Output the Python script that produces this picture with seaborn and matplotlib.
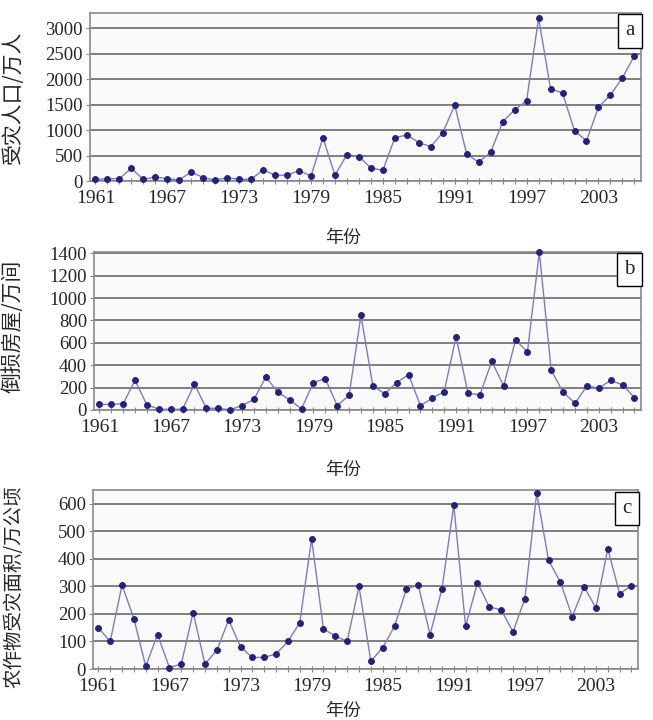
import matplotlib
matplotlib.use("Agg")
import matplotlib.pyplot as plt
import seaborn as sns
import pandas as pd

years = list(range(1961, 2007))

affected_people = [30, 45, 45, 250, 30, 80, 45, 20, 180, 65,
                   20, 65, 33, 33, 220, 115, 113, 205, 95, 850,
                   113, 520, 480, 255, 210, 850, 905, 755, 675, 950,
                   1490, 525, 370, 565, 1160, 1400, 1575, 3200, 1810, 1730,
                   985, 790, 1450, 1690, 2030, 2460]

damaged_houses = [50, 50, 55, 265, 45, 8, 5, 8, 230, 15,
                  15, 2, 40, 95, 295, 160, 90, 10, 245, 280,
                  40, 130, 845, 215, 145, 245, 315, 40, 105, 165,
                  655, 150, 135, 435, 215, 625, 520, 1410, 355, 160,
                  60, 215, 195, 265, 225, 110]

crop_area = [150, 100, 305, 183, 10, 125, 5, 18, 205, 18,
             68, 178, 80, 42, 42, 55, 100, 168, 472, 145,
             120, 100, 300, 28, 78, 155, 290, 305, 125, 290,
             595, 155, 313, 225, 215, 135, 255, 640, 395, 315,
             190, 298, 222, 437, 273, 303]

ylabels = ["受灾人口/万人", "倒损房屋/万间", "农作物受灾面积/万公顷"]
panel_tags = ["a", "b", "c"]
xtick_years = list(range(1961, 2007, 6))
xlabel_text = "年份"

sns.set_theme(style="white")
plt.rcParams['font.family'] = ['Noto Sans CJK SC', 'DejaVu Sans']

fig = plt.figure(figsize=(6.53, 7.2), dpi=100)

# axes rectangles in pixels: left, right, top, bottom
rects_px = [(90, 641, 13, 181), (94, 641, 252, 410), (93, 638, 490, 669)]
ylims = [(0, 3300), (0, 1412), (0, 650)]
ysteps = [500, 200, 100]
ylabel_y = [0.5, 0.53, 0.46]
ylabel_size = [15, 15, 14]
xlabel_pos_y = [229, 461, 702]

series = [affected_people, damaged_houses, crop_area]
W, H = 653, 720

serif = ['Liberation Serif', 'DejaVu Serif']

for i in range(3):
    l, r, t, b = rects_px[i]
    ax = fig.add_axes([l / W, 1 - b / H, (r - l) / W, (b - t) / H])
    ax.set_facecolor('#fafafa')
    df = pd.DataFrame({"year": years, "value": series[i]})
    sns.lineplot(data=df, x="year", y="value", ax=ax, color='#7c7cc6',
                 linewidth=1.0, marker='o', markersize=4.2,
                 markerfacecolor='#23237a', markeredgecolor='#23237a', zorder=3,
                 clip_on=False)
    ax.set_xlim(1960.55, 2006.55)
    ax.set_ylim(*ylims[i])
    ax.set_yticks(list(range(0, ylims[i][1] + 1, ysteps[i])))
    ax.yaxis.grid(True, color='#757575', linewidth=1.3)
    ax.set_axisbelow(True)
    ax.set_xticks(xtick_years)
    ax.set_xticks(years, minor=True)
    ax.set_xticklabels([str(y) for y in xtick_years], fontfamily=serif, fontsize=14)
    for lab in ax.get_yticklabels():
        lab.set_fontfamily(serif)
        lab.set_fontsize(13.5)
    ax.tick_params(axis='x', which='both', direction='inout', length=5, width=0.8,
                   color='#888888', pad=4, bottom=True)
    ax.tick_params(axis='y', direction='out', length=3, width=0.8,
                   color='#888888', pad=2, left=True)
    for sp in ax.spines.values():
        sp.set_color('#8a8a8a')
        sp.set_linewidth(1.2)
    ax.set_ylabel(ylabels[i], fontsize=ylabel_size[i])
    ax.yaxis.set_label_coords((24 - l) / (r - l), ylabel_y[i])
    ax.set_xlabel(xlabel_text, fontsize=13)
    ax.xaxis.set_label_coords((343 - l) / (r - l), (b - xlabel_pos_y[i]) / (b - t))
    ax.text(0.988, 0.95, panel_tags[i], transform=ax.transAxes, ha='right', va='top',
            fontsize=15, fontfamily=serif,
            bbox=dict(boxstyle='square,pad=0.35', facecolor='white', edgecolor='black',
                      linewidth=1.0), zorder=5)

fig.savefig("out.png", dpi=100, facecolor='white')
